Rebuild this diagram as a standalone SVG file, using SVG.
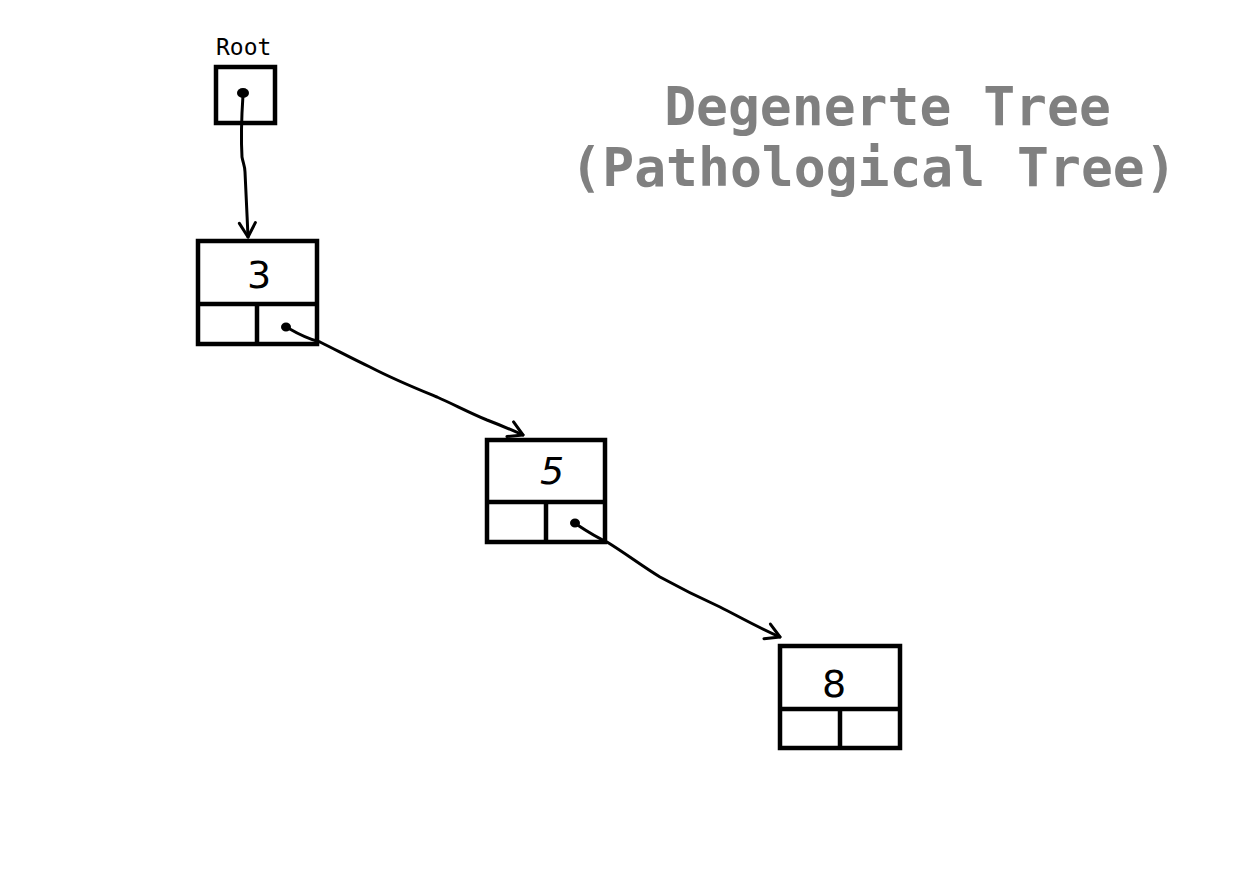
<svg xmlns="http://www.w3.org/2000/svg" width="1256" height="884" viewBox="0 0 1256 884">
<style>
.box{fill:none;stroke:#000;stroke-width:4.5}
.div{stroke:#000;stroke-width:4.5}
.conn{fill:none;stroke:#000;stroke-width:3;stroke-linecap:round;stroke-linejoin:round}
.ptr{fill:#000;stroke:#000;stroke-width:3}
.dot{fill:#000}
.num{font-family:"DejaVu Sans","Liberation Sans",sans-serif;font-size:38px;fill:#000;text-anchor:middle}
.title{font-family:"DejaVu Sans Mono","Liberation Mono",monospace;font-weight:bold;font-size:53px;fill:#808080;text-anchor:middle}
.label{font-family:"DejaVu Sans Mono","Liberation Mono",monospace;font-size:23px;fill:#000}
</style>
<defs>
<marker id="arrow" viewBox="0 0 20 20" refX="16" refY="10" markerWidth="20" markerHeight="20" markerUnits="userSpaceOnUse" orient="auto">
<path d="M2,2 L16,10 L2,18" fill="none" stroke="#000" stroke-width="3" stroke-linecap="round" stroke-linejoin="round"/>
</marker>
</defs>
<rect width="1256" height="884" fill="#fff"/>
<g id="title">
<text class="title" x="887.5" y="125">Degenerte Tree</text>
<text class="title" x="873.5" y="186">(Pathological Tree)</text>
</g>
<g id="root">
<text class="label" x="216" y="55">Root</text>
<rect class="box" x="216" y="67" width="59" height="56"/>
<ellipse class="dot" cx="243" cy="93" rx="6" ry="5"/>
</g>
<g id="node3">
<rect class="box" x="198" y="241" width="119" height="103"/>
<line class="div" x1="198" y1="304" x2="317" y2="304"/>
<line class="div" x1="257" y1="304" x2="257" y2="344"/>
<text class="num" x="259" y="288">3</text>
<ellipse class="ptr" cx="286" cy="327" rx="3.5" ry="3"/>
</g>
<g id="node5">
<rect class="box" x="487" y="440" width="118" height="102"/>
<line class="div" x1="487" y1="502" x2="605" y2="502"/>
<line class="div" x1="546" y1="502" x2="546" y2="542"/>
<text class="num" x="552" y="484" font-style="italic">5</text>
<ellipse class="ptr" cx="575" cy="523" rx="3.5" ry="3"/>
</g>
<g id="node8">
<rect class="box" x="780" y="646" width="120" height="102"/>
<line class="div" x1="780" y1="709" x2="900" y2="709"/>
<line class="div" x1="840" y1="709" x2="840" y2="748"/>
<text class="num" x="834" y="697">8</text>
</g>
<g id="connectors">
<path class="conn" marker-end="url(#arrow)" d="M243,95 C242,110 241,140 242,157 C243,163 245,166 245,172 C246,190 247,215 248,237"/>
<path class="conn" marker-end="url(#arrow)" d="M288,328 C300,335 312,340 320,342 C340,352 355,360 370,367 C395,380 415,388 437,397 C455,405 470,413 487,420 C500,425 512,430 523,435"/>
<path class="conn" marker-end="url(#arrow)" d="M576,524 C588,532 598,538 607,542 C625,553 642,566 660,577 C680,588 700,598 720,607 C738,616 755,626 780,637"/>
</g>
</svg>
